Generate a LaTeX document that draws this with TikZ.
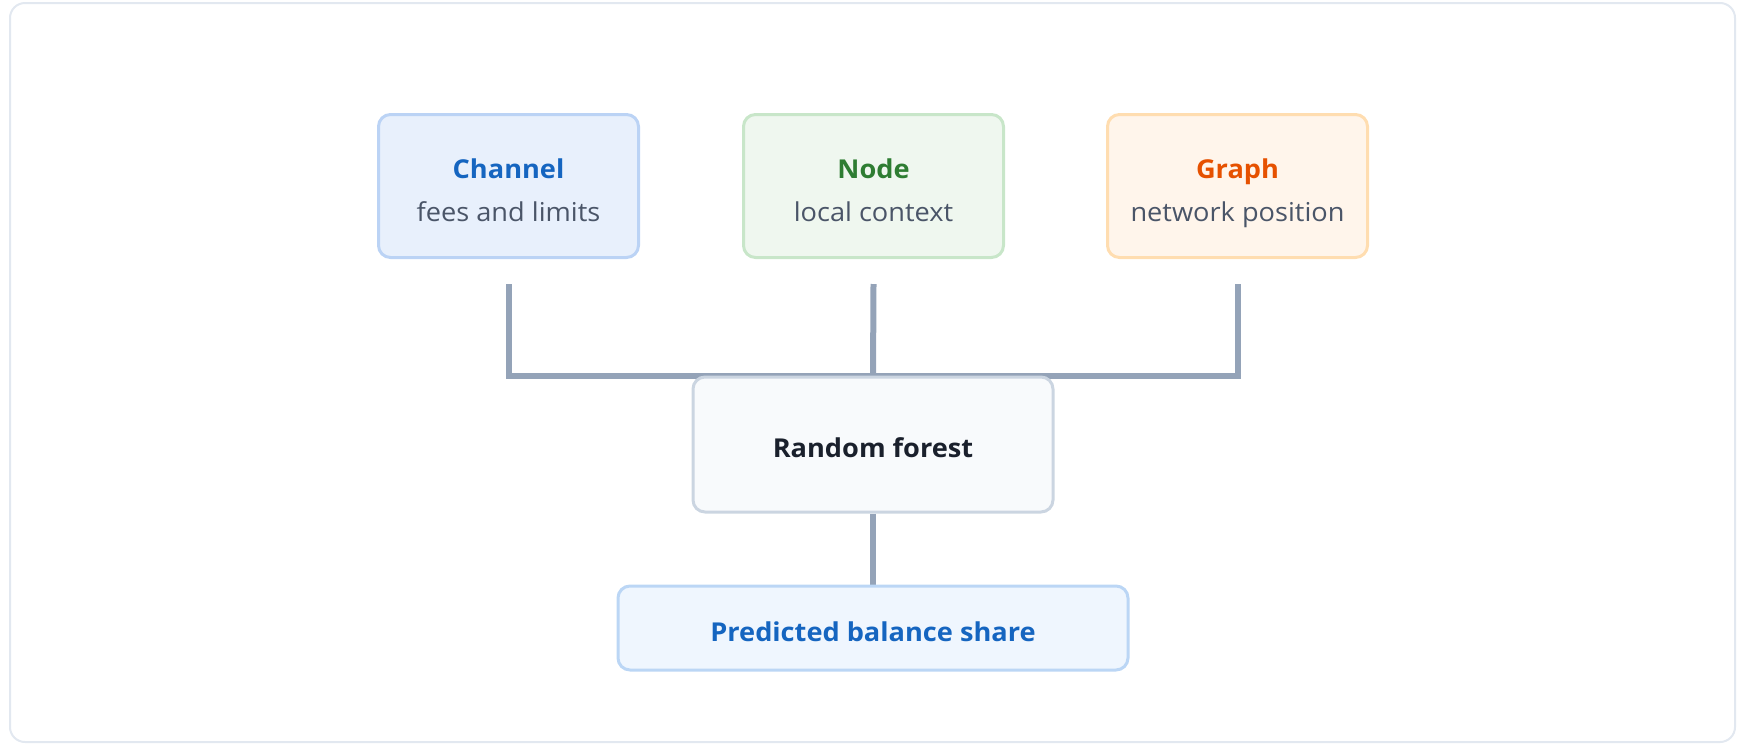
\documentclass[tikz,border=0pt]{standalone}
\usepackage{fontspec}
\setmainfont{Open Sans}[FakeStretch=1.045]
\usetikzlibrary{backgrounds}
\definecolor{framec}{HTML}{E2E8F0}
\definecolor{connc}{HTML}{94A3B8}
\definecolor{subc}{HTML}{4A5568}
\definecolor{chfill}{HTML}{E8F0FC}
\definecolor{chdraw}{HTML}{BBD3F5}
\definecolor{chtext}{HTML}{1565C0}
\definecolor{ndfill}{HTML}{EFF7EF}
\definecolor{nddraw}{HTML}{C8E6C9}
\definecolor{ndtext}{HTML}{2E7D32}
\definecolor{grfill}{HTML}{FFF5EB}
\definecolor{grdraw}{HTML}{FFDDB0}
\definecolor{grtext}{HTML}{E65100}
\definecolor{rffill}{HTML}{F8FAFC}
\definecolor{rfdraw}{HTML}{CBD5E1}
\definecolor{rftext}{HTML}{1A202C}
\definecolor{prfill}{HTML}{EFF6FE}
\definecolor{prdraw}{HTML}{BBD6F5}
\tikzset{
  box/.style={rounded corners=6pt, line width=1.5pt, inner sep=0pt},
  featbox/.style={box, minimum width=130pt, minimum height=71.5pt},
  txt/.style={anchor=base, inner sep=0pt, font=\fontsize{13}{16}\selectfont},
  ttl/.style={txt, font=\fontsize{13}{16}\selectfont\bfseries},
  conn/.style={draw=connc, line width=3pt, line join=miter, line cap=butt},
}
\begin{document}
\begin{tikzpicture}[x=0.5pt,y=-0.5pt]
\useasboundingbox (0,0) rectangle (1743,745);
\node[featbox, fill=chfill, draw=chdraw] (ch) at (508.5,186) {};
\node[featbox, fill=ndfill, draw=nddraw] (nd) at (873.5,186) {};
\node[featbox, fill=grfill, draw=grdraw] (gr) at (1237.5,186) {};
\node[box, fill=rffill, draw=rfdraw, minimum width=180pt, minimum height=67.5pt] (rf) at (873,444.5) {};
\node[box, fill=prfill, draw=prdraw, minimum width=255pt, minimum height=42pt] (pr) at (873,628) {};
\node[ttl, text=chtext] (cht) at ([yshift=3.75pt]ch.center) {Channel};
\node[txt, text=subc] (chs) at ([yshift=-17.5pt]ch.center) {fees and limits};
\node[ttl, text=ndtext] (ndt) at ([yshift=3.75pt]nd.center) {Node};
\node[txt, text=subc] (nds) at ([yshift=-17.5pt]nd.center) {local context};
\node[ttl, text=grtext] (grt) at ([yshift=3.75pt]gr.center) {Graph};
\node[txt, text=subc] (grs) at ([yshift=-17.5pt]gr.center) {network position};
\node[ttl, text=rftext] (rft) at ([yshift=-6.5pt]rf.center) {Random forest};
\node[ttl, text=chtext] (prt) at ([yshift=-6.5pt]pr.center) {Predicted balance share};
\begin{scope}[on background layer]
\draw[framec, line width=1pt, rounded corners=7.5pt] (10,3) rectangle (1735,742);
\draw[conn] ([yshift=-12.5pt]ch.south) -- (ch.south |- rf.north) -- (gr.south |- rf.north) -- ([yshift=-12.5pt]gr.south);
\draw[conn] ([yshift=-12.5pt]nd.south) -- (rf.north);
\draw[conn] (rf.south) -- (pr.north);
\end{scope}
\end{tikzpicture}
\end{document}
